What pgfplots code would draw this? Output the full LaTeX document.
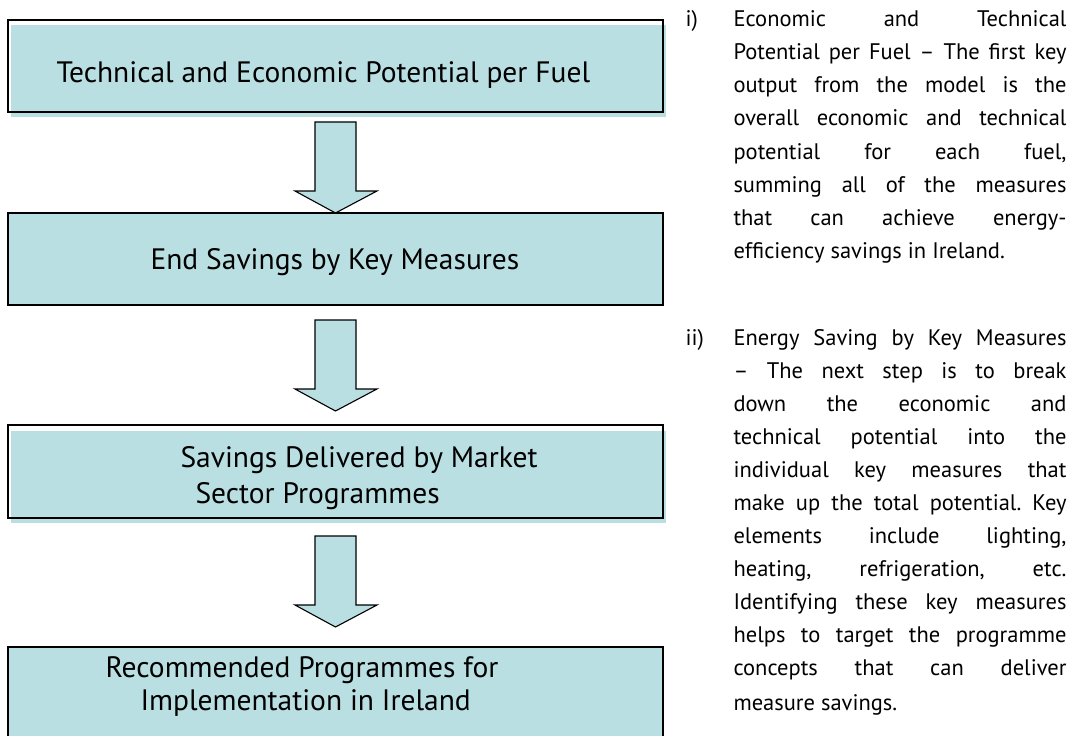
\documentclass[border=0pt]{standalone}
\usepackage{pgfplots}
\pgfplotsset{compat=1.18}
\usepackage{fontspec}
\setmainfont{PT Sans}
\frenchspacing
\definecolor{boxfill}{RGB}{185,223,226}
\newcommand{\jl}[1]{\hbox to 333bp{#1}}
\begin{document}
\begin{tikzpicture}
\begin{axis}[
  scale only axis, width=1075bp, height=736bp,
  xmin=0, xmax=1075, ymin=0, ymax=736, y dir=reverse,
  hide axis, clip=false,
  every node/.style={inner sep=0pt, outer sep=0pt},
]
% ---- boxes (fill, then outline) ----
% Box 1 (offset fill)
\addplot[draw=none, fill=boxfill] coordinates {(11,25) (666,25) (666,117) (11,117)} -- cycle;
\addplot[draw=black, line width=1.3bp] coordinates {(8,20) (663,20) (663,112) (8,112)} -- cycle;
% Box 2
\addplot[draw=black, line width=1.3bp, fill=boxfill] coordinates {(8,213) (663,213) (663,305) (8,305)} -- cycle;
% Box 3 (offset fill)
\addplot[draw=none, fill=boxfill] coordinates {(11,431) (666,431) (666,523) (11,523)} -- cycle;
\addplot[draw=black, line width=1.3bp] coordinates {(8,425) (663,425) (663,518) (8,518)} -- cycle;
% Box 4
\addplot[draw=black, line width=1.3bp, fill=boxfill] coordinates {(8,647) (663,647) (663,760) (8,760)} -- cycle;
% ---- arrows ----
\addplot[draw=black, line width=1.1bp, fill=boxfill] coordinates {(315,122) (356,122) (356,191) (377,191) (335.5,213) (295,191) (315,191)} -- cycle;
\addplot[draw=black, line width=1.1bp, fill=boxfill] coordinates {(315,320) (356,320) (356,389) (377,389) (335.5,411) (295,389) (315,389)} -- cycle;
\addplot[draw=black, line width=1.1bp, fill=boxfill] coordinates {(315,536) (356,536) (356,605) (377,605) (335.5,627) (295,605) (315,605)} -- cycle;
% ---- box texts ----
\begin{scope}[every node/.append style={anchor=base west, font=\fontsize{29.5bp}{34bp}\selectfont}]
\node at (axis cs:53,83) {Technical and Economic Potential per Fuel};
\node at (axis cs:147,269) {End Savings by Key Measures};
\node at (axis cs:177,467) {Savings Delivered by Market};
\node at (axis cs:192,503) {Sector Programmes};
\node at (axis cs:102,677) {Recommended Programmes for};
\node at (axis cs:137,710) {Implementation in Ireland};
\end{scope}
% ---- right column ----
\begin{scope}[every node/.append style={anchor=base west, font=\fontsize{22.5bp}{26bp}\selectfont}]
\node at (axis cs:682,27) {i)};
\node at (axis cs:730,27) {\jl{Economic and Technical}};
\node at (axis cs:730,60) {\jl{Potential per Fuel \textendash{} The first key}};
\node at (axis cs:730,93) {\jl{output from the model is the}};
\node at (axis cs:730,126) {\jl{overall economic and technical}};
\node at (axis cs:730,159) {\jl{potential for each fuel,}};
\node at (axis cs:730,192) {\jl{summing all of the measures}};
\node at (axis cs:730,225) {\jl{that can achieve energy-}};
\node at (axis cs:730,258) {efficiency savings in Ireland.};
\node at (axis cs:682,345) {ii)};
\node at (axis cs:730,345) {\jl{Energy Saving by Key Measures}};
\node at (axis cs:730,378) {\jl{\textendash{} The next step is to break}};
\node at (axis cs:730,411) {\jl{down the economic and}};
\node at (axis cs:730,444) {\jl{technical potential into the}};
\node at (axis cs:730,477) {\jl{individual key measures that}};
\node at (axis cs:730,510) {\jl{make up the total potential. Key}};
\node at (axis cs:730,543) {\jl{elements include lighting,}};
\node at (axis cs:730,576) {\jl{heating, refrigeration, etc.}};
\node at (axis cs:730,609) {\jl{Identifying these key measures}};
\node at (axis cs:730,642) {\jl{helps to target the programme}};
\node at (axis cs:730,675) {\jl{concepts that can deliver}};
\node at (axis cs:730,710) {measure savings.};
\end{scope}
\end{axis}
\pgfresetboundingbox
\useasboundingbox (0,0) rectangle (1075bp,736bp);
\end{tikzpicture}
\end{document}
